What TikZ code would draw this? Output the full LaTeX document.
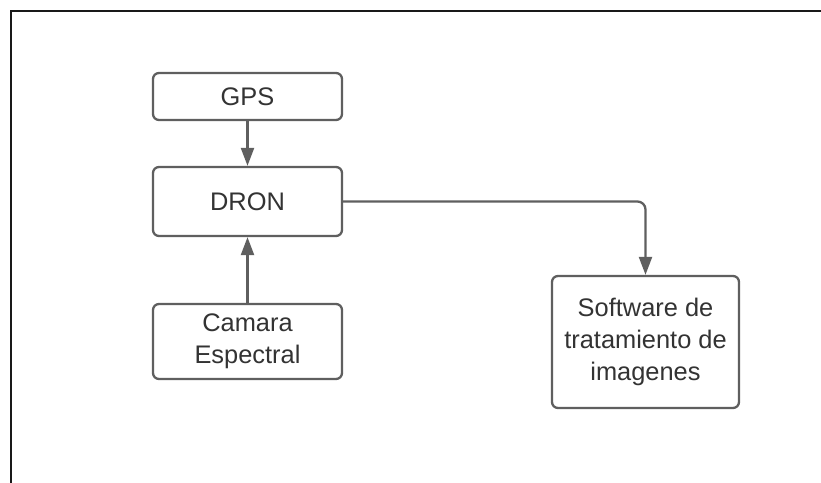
\documentclass[tikz,border=0pt]{standalone}
\usepackage{fontspec}
\setmainfont{Liberation Sans}
\usetikzlibrary{arrows.meta}
\definecolor{boxline}{HTML}{5F5F5F}
\definecolor{boxtext}{HTML}{333333}
\tikzset{
  block/.style={draw=boxline, line width=2.3bp, rounded corners=6bp, fill=white,
    text=boxtext, align=center, inner sep=0pt,
    font=\fontsize{25.5}{32}\selectfont},
  link/.style={draw=boxline, line width=2.3bp,
    -{Triangle[length=18bp, width=13bp]}},
}
\begin{document}
\begin{tikzpicture}[x=1bp, y=-1bp]
  \useasboundingbox (0,0) rectangle (821,483);
  % outer frame (top and left edges only)
  \draw[line width=2.2bp, black!90] (11,483) -- (11,11) -- (821,11);

  \node[block, minimum width=189bp, minimum height=47bp] (gps) at (247.5,96.5) {GPS};
  \node[block, minimum width=189bp, minimum height=69bp] (dron) at (247.5,201.5) {DRON};
  \node[block, minimum width=189bp, minimum height=75bp] (cam) at (247.5,341.5) {Camara\\Espectral};
  \node[block, minimum width=187bp, minimum height=132bp] (soft) at (645.5,342) {Software de\\tratamiento de\\imagenes};

  \draw[link] (gps) -- (dron);
  \draw[link] (cam) -- (dron);
  \draw[link, rounded corners=8bp] (dron.east) -| (soft.north);
\end{tikzpicture}
\end{document}
